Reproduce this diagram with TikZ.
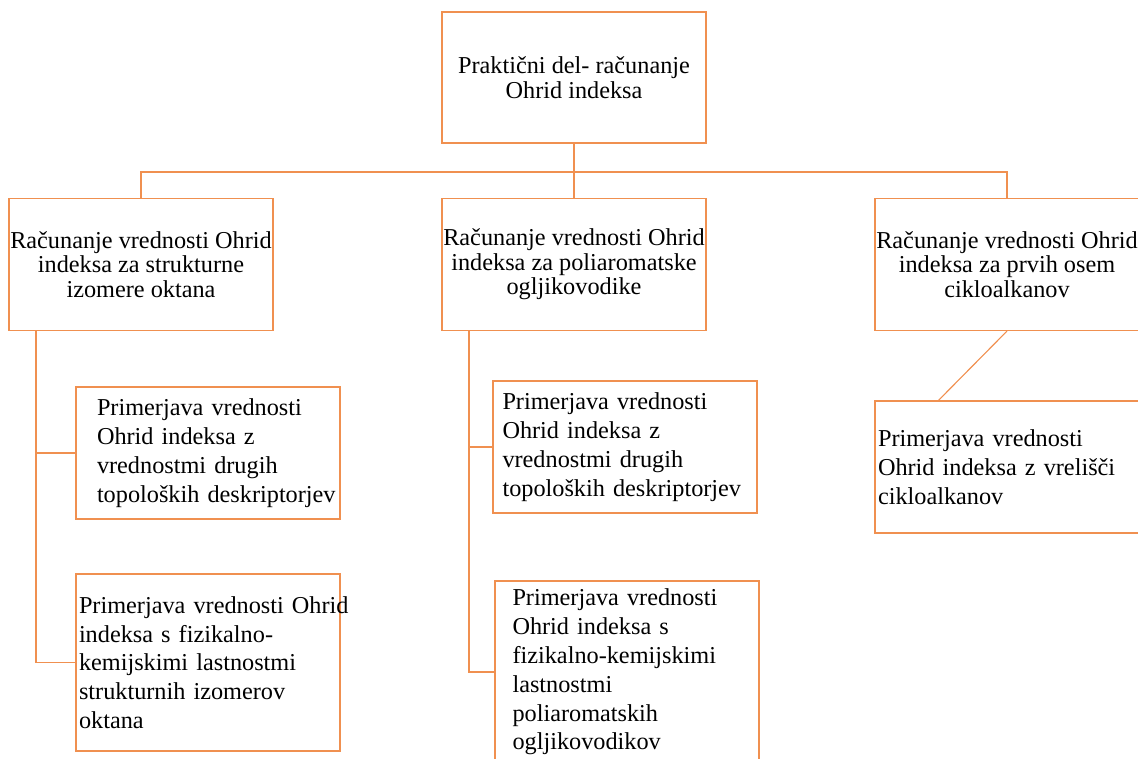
\documentclass[tikz,border=0pt]{standalone}
\usepackage{fontspec}
\setmainfont{Liberation Serif}
\usepackage{tikz}
\definecolor{boxorange}{RGB}{237,125,49}

\begin{document}
\begin{tikzpicture}[x=0.75pt,y=-0.75pt,
   box/.style={draw=boxorange!85,line width=0.85pt,inner sep=0pt,minimum width=198pt,minimum height=99pt},
   head/.style={box,align=center,font=\fontsize{18.2}{18.4}\selectfont},
   sub/.style={box,align=left,font=\fontsize{18.2}{21.6}\selectfont},
   link/.style={draw=boxorange!85,line width=0.85pt}]
   \useasboundingbox (0,0) rectangle (1138,758);

   \node[head,minimum height=98.25pt] (top) at (574,77.5) {Praktični del- računanje\\Ohrid indeksa};

   \node[head] (oktan) at (141,264.5) {Računanje vrednosti Ohrid\\indeksa za strukturne\\izomere oktana};
   \node[head] (poli) at (574,264.5) {Računanje vrednosti Ohrid\\indeksa za poliaromatske\\ogljikovodike};
   \node[head] (ciklo) at (1007,264.5) {Računanje vrednosti Ohrid\\indeksa za prvih osem\\cikloalkanov};

   \node[sub,text width=166.5pt] (oktanA) at (208,453) {Primerjava vrednosti\\Ohrid indeksa z\\vrednostmi drugih\\\mbox{topoloških deskriptorjev}};
   \node[sub,text width=193.5pt,minimum height=132.75pt] (oktanB) at (208,662.5) {\mbox{Primerjava vrednosti Ohrid}\\indeksa s fizikalno-\\kemijskimi lastnostmi\\strukturnih izomerov\\oktana};

   \node[sub,text width=183.75pt] (poliA) at (625,447) {Primerjava vrednosti\\Ohrid indeksa z\\vrednostmi drugih\\topoloških deskriptorjev};
   \node[sub,text width=171.75pt,minimum height=136.5pt] (poliB) at (627,672) {Primerjava vrednosti\\Ohrid indeksa s\\fizikalno-kemijskimi\\lastnostmi\\poliaromatskih\\ogljikovodikov};

   \node[sub,text width=193.5pt] (cikloA) at (1007,467) {Primerjava vrednosti\\Ohrid indeksa z vrelišči\\cikloalkanov};

   \coordinate (bar) at (574,172);
   \coordinate (oktanT) at (36,331);
   \coordinate (poliT) at (469,331);

   \draw[link] (top) -- (poli);
   \draw[link] (oktan.north) |- (bar) -| (ciklo.north);
   \draw[link] (oktanT) |- (oktanA.west);
   \draw[link] (oktanT) |- (oktanB.west);
   \draw[link] (poliT) |- (poliA.west);
   \draw[link] (poliT) |- (poliB.west);
   \draw[link] (ciklo.south) -- ([xshift=48pt]cikloA.north west);
\end{tikzpicture}
\end{document}
